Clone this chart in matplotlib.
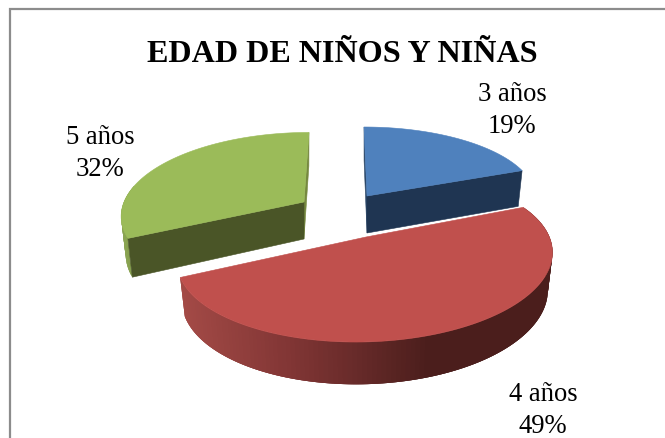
"""3D exploded pie: EDAD DE NINOS Y NINAS."""
import matplotlib
matplotlib.use("Agg")
import matplotlib.pyplot as plt
import numpy as np
from matplotlib.colors import to_rgb
from matplotlib.patches import Polygon

plt.rcParams["font.family"] = ["Liberation Serif", "DejaVu Serif"]

title = "EDAD DE NIÑOS Y NIÑAS"
categories = ["3 años", "4 años", "5 años"]
values = [19, 49, 32]

# look of each slice, in the order of categories
top_colors = ["#4F81BD", "#C0504D", "#9BBB59"]
face_colors = ["#1F3552", "#4B1E1C", "#4A5527"]
apexes = [(367, 197), (366, 238), (304, 203)]
radii = [(168, 69), (182, 79.5), (180, 80)]
persp = [0.0, 0.243, 0.15]
shears = [-3, 5, 5]
tilts = [0, -3, 0]
label_pos = [(512, 110.5), (543, 410.5), (100, 153.5)]

# fake camera: the underside is a bit narrower and sits lower
DEPTH = 37
BOTTOM_X = 0.975
BOTTOM_Y = 1.05

RED_X = [180, 290, 350, 430, 560]
RED_SHADES = ["#A54B47", "#823635", "#6B2C2B", "#4B1E1C", "#4B1E1C"]
GREEN_X = [122, 140]
GREEN_SHADES = ["#8CA653", "#7E9748"]


def top_xy(i, deg):
    """Top-face point of slice i at a clockwise angle from 12 o'clock, relative to its apex."""
    t = np.radians(deg)
    u, v = np.sin(t), np.cos(t)
    w = 1 + persp[i] * v
    return radii[i][0] * u / w + shears[i] * v, -radii[i][1] * v / w + tilts[i] * u


def to_page(i, x, y, bottom=False):
    ax0, ay0 = apexes[i]
    if bottom:
        return ax0 + x * BOTTOM_X, ay0 + y * BOTTOM_Y + DEPTH
    return ax0 + x, ay0 + y


def outline(i, a0, a1, bottom=False, n=120):
    deg = np.linspace(a0, a1, n)
    x, y = top_xy(i, deg)
    return np.column_stack(to_page(i, x, y, bottom))


def shade(x, xs, colors):
    rgb = np.array([to_rgb(c) for c in colors])
    return [np.interp(x, xs, rgb[:, k]) for k in range(3)]


def radial_face(ax, i, deg, color):
    x, y = top_xy(i, deg)
    pts = [to_page(i, 0, 0), to_page(i, x, y), to_page(i, x, y, True), to_page(i, 0, 0, True)]
    ax.add_patch(Polygon(pts, fc=color, ec=color, lw=0.4))


def rim(ax, i, a0, a1, xs, colors, n=70, overlap=4):
    # each strip runs on under the next ones so no seams show between them
    deg = np.linspace(a0, a1, n)
    x, y = top_xy(i, deg)
    tx, ty = to_page(i, x, y)
    bx, by = to_page(i, x, y, True)
    for j in range(n - 1):
        k = min(j + overlap, n)
        top = np.column_stack([tx[j:k], ty[j:k]])
        low = np.column_stack([bx[j:k], by[j:k]])[::-1]
        c = shade((tx[j] + bx[j]) / 2, xs, colors)
        ax.add_patch(Polygon(np.vstack([top, low]), fc=c, ec="none"))


def top_face(ax, i, a0, a1):
    pts = np.vstack([[to_page(i, 0, 0)], outline(i, a0, a1)])
    ax.add_patch(Polygon(pts, fc=top_colors[i], ec=top_colors[i], lw=0.4))


fig = plt.figure(figsize=(6.65, 4.39), dpi=100)
ax = fig.add_axes([0, 0, 1, 1])
ax.set_xlim(0, 665)
ax.set_ylim(439, 0)
ax.axis("off")

# chart frame only shows on the top and left of the crop
ax.plot([9.5, 9.5, 665], [439, 9.5, 9.5], color="#8C8C8C", lw=1.6, solid_joinstyle="miter")

edges = np.concatenate([[0], np.cumsum(values)]) / sum(values) * 360

# green goes first, it is furthest back on the left
radial_face(ax, 2, edges[3], "#76893F")
rim(ax, 2, edges[2], 282, GREEN_X, GREEN_SHADES)
radial_face(ax, 2, edges[2], face_colors[2])
top_face(ax, 2, edges[2], edges[3])

radial_face(ax, 0, edges[0], "#2B4768")
radial_face(ax, 0, edges[1], face_colors[0])
top_face(ax, 0, edges[0], edges[1])

rim(ax, 1, edges[1], edges[2], RED_X, RED_SHADES, n=150)
top_face(ax, 1, edges[1], edges[2])

ax.text(342.5, 54.5, title, ha="center", va="center", fontsize=23.1, fontweight="bold", color="black")
for (lx, ly), cat, val in zip(label_pos, categories, values):
    ax.text(lx, ly, f"{cat}\n{val}%", ha="center", va="center", fontsize=19.2,
            linespacing=1.36, color="black")

fig.savefig("out.png", dpi=100)
plt.close(fig)
